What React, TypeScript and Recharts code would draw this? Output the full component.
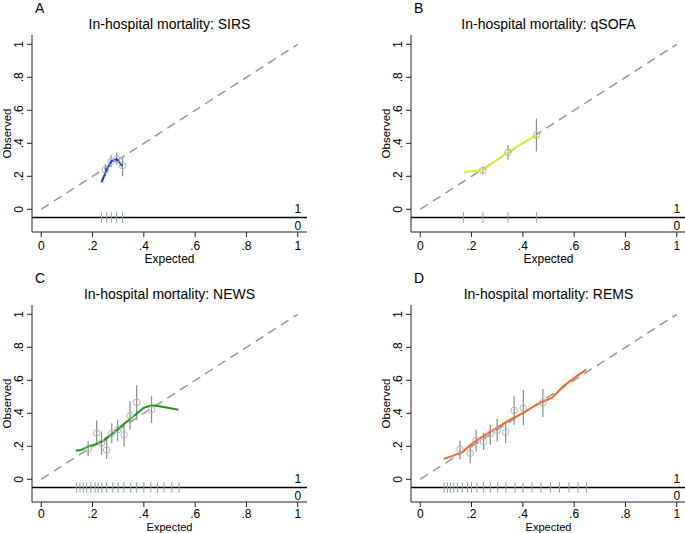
import React from 'react';
import { ComposedChart, XAxis, YAxis, Line, Scatter, ErrorBar, ReferenceLine, ReferenceDot } from 'recharts';

const FONT = '"Liberation Sans", Arial, Helvetica, sans-serif';
const axisTicks = [0, 0.2, 0.4, 0.6, 0.8, 1];

// A: SIRS
const sirsCurveX = [0.235, 0.255, 0.272, 0.294, 0.316];
const sirsCurveY = [0.164, 0.238, 0.289, 0.305, 0.262];
const sirsPtX = [0.25, 0.272, 0.294, 0.317];
const sirsPtY = [0.24, 0.29, 0.305, 0.265];
const sirsPtLo = [0.2, 0.255, 0.27, 0.2];
const sirsPtHi = [0.275, 0.33, 0.345, 0.31];
const sirsRug = [0.235, 0.255, 0.274, 0.294, 0.317];

// B: qSOFA
const qsofaCurveX = [0.169, 0.244, 0.342, 0.453];
const qsofaCurveY = [0.224, 0.238, 0.349, 0.45];
const qsofaPtX = [0.244, 0.342, 0.453];
const qsofaPtY = [0.235, 0.345, 0.45];
const qsofaPtLo = [0.215, 0.3, 0.35];
const qsofaPtHi = [0.26, 0.39, 0.55];
const qsofaRug = [0.169, 0.244, 0.342, 0.453];

// C: NEWS
const newsCurveX = [0.135, 0.157, 0.183, 0.216, 0.248, 0.281, 0.313, 0.352, 0.398, 0.424, 0.45, 0.535];
const newsCurveY = [0.174, 0.178, 0.199, 0.213, 0.239, 0.28, 0.325, 0.371, 0.432, 0.446, 0.446, 0.422];
const newsPtX = [0.183, 0.216, 0.235, 0.255, 0.275, 0.298, 0.323, 0.346, 0.372, 0.43];
const newsPtY = [0.183, 0.28, 0.219, 0.178, 0.28, 0.3, 0.27, 0.385, 0.467, 0.422];
const newsPtLo = [0.14, 0.209, 0.148, 0.122, 0.219, 0.229, 0.199, 0.3, 0.361, 0.341];
const newsPtHi = [0.23, 0.357, 0.29, 0.25, 0.34, 0.361, 0.33, 0.473, 0.57, 0.503];
const newsRug = [0.138, 0.151, 0.164, 0.177, 0.193, 0.21, 0.222, 0.236, 0.255, 0.279, 0.3, 0.322, 0.349, 0.372, 0.4, 0.427, 0.453, 0.479, 0.509, 0.537];

// D: REMS
const remsCurveX = [0.091, 0.127, 0.166, 0.205, 0.244, 0.297, 0.35, 0.402, 0.442, 0.48, 0.513, 0.558, 0.61, 0.647];
const remsCurveY = [0.124, 0.142, 0.168, 0.219, 0.26, 0.31, 0.361, 0.402, 0.442, 0.473, 0.493, 0.564, 0.625, 0.665];
const remsPtX = [0.155, 0.195, 0.218, 0.247, 0.273, 0.3, 0.333, 0.366, 0.402, 0.478];
const remsPtY = [0.183, 0.158, 0.235, 0.227, 0.276, 0.296, 0.286, 0.418, 0.432, 0.465];
const remsPtLo = [0.122, 0.097, 0.168, 0.178, 0.209, 0.229, 0.219, 0.331, 0.327, 0.377];
const remsPtHi = [0.235, 0.215, 0.3, 0.28, 0.331, 0.365, 0.351, 0.507, 0.54, 0.547];
const remsRug = [0.093, 0.106, 0.118, 0.131, 0.145, 0.164, 0.184, 0.2, 0.221, 0.247, 0.273, 0.302, 0.334, 0.37, 0.4, 0.436, 0.471, 0.508, 0.543, 0.58, 0.615, 0.648];

const fmt = (v: number) => (v === 0 ? '0' : v === 1 ? '1' : String(v).replace(/^0/, ''));

const YTick = (p: any) => (
  <text x={p.x} y={p.y} transform={`rotate(-90 ${p.x} ${p.y})`} textAnchor="middle" fontSize={12} fill="#000" fontFamily={FONT}>
    {fmt(p.payload.value)}
  </text>
);

type PanelProps = {
  letter: string;
  title: string;
  color: string;
  cx: number[];
  cy: number[];
  px: number[];
  py: number[];
  lo: number[];
  hi: number[];
  rug: number[];
  left: number;
  top: number;
  h: number;
};

const Panel = ({ letter, title, color, cx, cy, px, py, lo, hi, rug, left, top, h }: PanelProps) => {
  const curve = cx.map((x, i) => ({ x, y: cy[i] }));
  const pts = px.map((x, i) => ({ x, y: py[i], err: [py[i] - lo[i], hi[i] - py[i]] }));
  const tight = h < 266;
  return (
    <div style={{ position: 'absolute', left, top, width: 343, height: h, fontFamily: FONT }}>
      <div style={{ position: 'absolute', left: 35, top: 0, fontSize: 14, lineHeight: 'normal' }}>{letter}</div>
      <div style={{ position: 'absolute', left: 32, width: 275, top: 16, fontSize: 14, lineHeight: '16px', textAlign: 'center' }}>{title}</div>
      <ComposedChart width={343} height={h} margin={{ top: 35, right: 36, left: 0, bottom: 0 }}>
        <XAxis
          type="number"
          dataKey="x"
          domain={[-0.036, 1.036]}
          ticks={axisTicks}
          tickFormatter={fmt}
          allowDataOverflow
          height={h - 232}
          tickSize={5}
          tickMargin={tight ? 2 : 4}
          stroke="#222"
          tick={{ fill: '#000', fontSize: 12, fontFamily: FONT }}
          label={{ value: 'Expected', position: 'insideBottom', offset: tight ? 2 : 3, fill: '#000', fontSize: tight ? 11 : 12, fontFamily: FONT }}
        />
        <YAxis
          type="number"
          dataKey="y"
          domain={[-0.1376, 1.0564]}
          ticks={axisTicks}
          allowDataOverflow
          width={32}
          tickSize={5}
          tickMargin={4}
          stroke="#222"
          tick={YTick}
          label={{ value: 'Observed', angle: -90, position: 'insideLeft', offset: 7, fill: '#000', fontSize: 11.5, fontFamily: FONT, style: { textAnchor: 'middle' } }}
        />
        <ReferenceLine segment={[{ x: 0, y: 0 }, { x: 1, y: 1 }]} stroke="#8ea59f" strokeWidth={1.6} strokeDasharray="9 6" ifOverflow="visible" />
        <ReferenceLine y={-0.05} stroke="#000" strokeWidth={1.5} ifOverflow="visible" />
        {rug.map((r, i) => (
          <ReferenceLine key={i} segment={[{ x: r, y: -0.018 }, { x: r, y: -0.081 }]} stroke="#8ea59f" strokeWidth={1} ifOverflow="visible" />
        ))}
        <ReferenceDot x={1} y={-0.05} r={0} fill="none" stroke="none" ifOverflow="visible"
          label={{ value: '1', position: 'top', offset: 5, fill: '#000', fontSize: 12, fontFamily: FONT }} />
        <ReferenceDot x={1} y={-0.05} r={0} fill="none" stroke="none" ifOverflow="visible"
          label={{ value: '0', position: 'bottom', offset: 4, fill: '#000', fontSize: 12, fontFamily: FONT }} />
        <Scatter
          data={pts}
          dataKey="y"
          isAnimationActive={false}
          shape={(p: any) => <circle cx={p.cx} cy={p.cy} r={3.3} fill="none" stroke="#b5b5b5" strokeWidth={1} />}
        >
          <ErrorBar dataKey="err" direction="y" width={0} stroke="#8a8a8a" strokeWidth={1.2} isAnimationActive={false} />
        </Scatter>
        <Line data={curve} dataKey="y" type="linear" stroke={color} strokeWidth={2} dot={false} isAnimationActive={false} />
      </ComposedChart>
    </div>
  );
};

export default function App() {
  return (
    <div style={{ position: 'absolute', left: 0, top: 0, width: 685, height: 533, overflow: 'hidden', background: '#fff' }}>
      <Panel letter="A" title="In-hospital mortality: SIRS" color="#1f3fe0"
        cx={sirsCurveX} cy={sirsCurveY} px={sirsPtX} py={sirsPtY} lo={sirsPtLo} hi={sirsPtHi} rug={sirsRug} left={0} top={0} h={266} />
      <Panel letter="B" title="In-hospital mortality: qSOFA" color="#e3ef2a"
        cx={qsofaCurveX} cy={qsofaCurveY} px={qsofaPtX} py={qsofaPtY} lo={qsofaPtLo} hi={qsofaPtHi} rug={qsofaRug} left={379} top={0} h={266} />
      <Panel letter="C" title="In-hospital mortality: NEWS" color="#1e961e"
        cx={newsCurveX} cy={newsCurveY} px={newsPtX} py={newsPtY} lo={newsPtLo} hi={newsPtHi} rug={newsRug} left={0} top={270} h={263} />
      <Panel letter="D" title="In-hospital mortality: REMS" color="#f26a2a"
        cx={remsCurveX} cy={remsCurveY} px={remsPtX} py={remsPtY} lo={remsPtLo} hi={remsPtHi} rug={remsRug} left={379} top={270} h={263} />
    </div>
  );
}
